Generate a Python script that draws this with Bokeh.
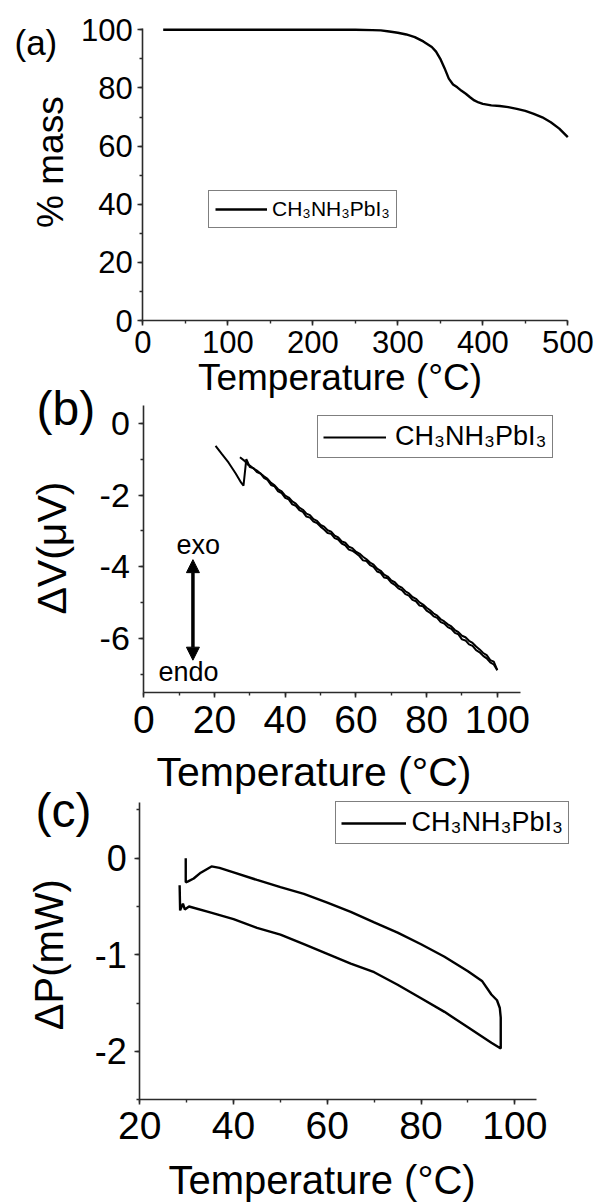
import math
from bokeh.plotting import figure
from bokeh.models import (SingleIntervalTicker, Range1d, Label, Legend, LegendItem,
                          Arrow, NormalHead, LinearAxis, CustomJSTickFormatter)
from bokeh.embed import file_html
from bokeh.resources import INLINE

FONT = "Liberation Sans"
INK = "#2b2b2b"
W, H = 600, 1203

# ---------------- (a) TGA ----------------
temp_a = [24, 50, 100, 150, 200, 250, 270, 280, 290, 300, 310, 320, 330, 340, 345,
          350, 355, 360, 365, 370, 375, 380, 385, 390, 395, 400, 410, 420, 430, 440,
          450, 460, 470, 480, 490, 500]
mass_a = [100.0, 100.0, 100.0, 100.0, 100.0, 100.0, 99.9, 99.8, 99.4, 99.0, 98.4, 97.5,
          96.0, 94.1, 92.5, 90.0, 86.8, 83.2, 81.2, 80.2, 79.0, 78.0, 76.8, 75.7, 75.0,
          74.5, 74.0, 73.8, 73.4, 72.8, 72.1, 71.1, 69.9, 68.2, 66.0, 63.1]

# ---------------- (b) DTA ----------------
heat_b_t = [20.3, 22, 24, 26, 27.5, 28.2, 29.0, 30, 31, 32, 33, 34, 35, 36, 37, 38, 39,
            40, 41, 42, 43, 44, 45, 46, 47, 48, 49, 50, 51, 52, 53, 54, 55, 56, 57, 58,
            59, 60, 61, 62, 63, 64, 65, 66, 67, 68, 69, 70, 71, 72, 73, 74, 75, 76, 77,
            78, 79, 80, 81, 82, 83, 84, 85, 86, 87, 88, 89, 90, 91, 92, 93, 94, 95, 96,
            97, 98, 99, 100]
heat_b_v = [-0.63, -0.85, -1.10, -1.40, -1.65, -1.74, -1.00, -1.22, -1.25, -1.36, -1.40,
            -1.52, -1.58, -1.72, -1.76, -1.90, -1.95, -2.08, -2.12, -2.26, -2.30, -2.42,
            -2.47, -2.60, -2.63, -2.74, -2.78, -2.88, -2.96, -3.06, -3.08, -3.20, -3.24,
            -3.35, -3.40, -3.52, -3.55, -3.62, -3.70, -3.82, -3.84, -3.95, -4.00, -4.13,
            -4.17, -4.30, -4.32, -4.44, -4.50, -4.60, -4.65, -4.76, -4.80, -4.92, -4.96,
            -5.08, -5.10, -5.22, -5.28, -5.38, -5.42, -5.54, -5.58, -5.68, -5.73, -5.84,
            -5.88, -6.02, -6.05, -6.16, -6.20, -6.32, -6.38, -6.48, -6.55, -6.66, -6.72,
            -6.88]
cool_b_t = [100, 99, 98, 97, 96, 95, 94, 93, 92, 91, 90, 89, 88, 87, 86, 85, 84, 83, 82,
            81, 80, 79, 78, 77, 76, 75, 74, 73, 72, 71, 70, 69, 68, 67, 66, 65, 64, 63,
            62, 61, 60, 59, 58, 57, 56, 55, 54, 53, 52, 51, 50, 49, 48, 47, 46, 45, 44,
            43, 42, 41, 40, 39, 38, 37, 36, 35, 34, 33, 32, 31, 30, 29.5, 28.5, 27.2]
cool_b_v = [-6.88, -6.64, -6.60, -6.46, -6.40, -6.30, -6.22, -6.12, -6.06, -5.96, -5.92,
            -5.82, -5.76, -5.66, -5.60, -5.52, -5.46, -5.36, -5.30, -5.21, -5.14, -5.05,
            -4.99, -4.89, -4.84, -4.74, -4.68, -4.58, -4.53, -4.43, -4.38, -4.27, -4.22,
            -4.11, -4.05, -3.94, -3.88, -3.79, -3.72, -3.63, -3.58, -3.48, -3.44, -3.33,
            -3.29, -3.18, -3.13, -3.02, -2.98, -2.88, -2.83, -2.72, -2.67, -2.56, -2.52,
            -2.41, -2.35, -2.24, -2.18, -2.07, -2.02, -1.90, -1.84, -1.73, -1.66, -1.55,
            -1.48, -1.40, -1.32, -1.26, -1.18, -1.16, -1.05, -0.95]

# exo / endo arrow (data units of panel b)
arrow_t = 13.9
arrow_top = -3.8
arrow_bottom = -6.6

# ---------------- (c) DSC ----------------
heat_c_t = [28.5, 28.6, 29.2, 29.6, 30.5, 35, 40, 45, 50, 55, 60, 65, 70, 75, 80, 85,
            90, 95, 97.0]
heat_c_p = [-0.28, -0.54, -0.47, -0.53, -0.50, -0.56, -0.63, -0.72, -0.79, -0.89, -0.99,
            -1.09, -1.18, -1.31, -1.45, -1.59, -1.75, -1.91, -1.97]
cool_c_t = [97.0, 97.0, 96.8, 96.2, 95, 93, 90, 85, 80, 75, 70, 65, 60, 55, 50, 45, 40,
            37, 35.3, 33, 31.5, 30.3, 29.8, 29.8]
cool_c_p = [-1.97, -1.65, -1.55, -1.47, -1.41, -1.27, -1.17, -1.02, -0.89, -0.77, -0.665,
            -0.555, -0.46, -0.37, -0.30, -0.225, -0.146, -0.10, -0.085, -0.15, -0.21,
            -0.24, -0.25, 0.0]

LEGEND_LABEL = "CH\u2083NH\u2083PbI\u2083"
X_LABEL = "Temperature (\u00b0C)"
Y_LABELS = ["% mass", "\u0394V(\u03bcV)", "\u0394P(mW)"]
PANEL_TAGS = ["(a)", "(b)", "(c)"]

# axis extents (value ranges drawn by each panel's axes)
x_bounds = {"a": (0, 500), "b": (0, 106.5), "c": (20, 104.6)}
y_bounds = {"a": (0, 100.35), "b": (-7.5, 0.5), "c": (-2.5, 0.58)}


def x_range_for(px0, v0, px1, v1):
    s = (v1 - v0) / (px1 - px0)
    return Range1d(start=v0 - px0 * s, end=v0 + (W - px0) * s)


def y_range_for(py0, v0, py1, v1):
    s = (v1 - v0) / (py1 - py0)
    return Range1d(start=v0 + (H - py0) * s, end=v0 - py0 * s)


# One canvas; the frame covers all of it.  Default ranges are page pixels (y down).
p = figure(width=W, height=H, output_backend="svg", toolbar_location=None,
           x_range=Range1d(0, W), y_range=Range1d(H, 0),
           x_axis_type=None, y_axis_type=None, min_border=0)
p.title.visible = False
p.outline_line_color = None
p.border_fill_color = "white"
p.background_fill_color = "white"

# pixel placement of each panel (where two axis values fall on the page)
p.extra_x_ranges = {"a": x_range_for(142.3, 0, 567.3, 500),
                    "b": x_range_for(143.3, 0, 496.8, 100),
                    "c": x_range_for(139.3, 20, 514.3, 100)}
p.extra_y_ranges = {"a": y_range_for(320.0, 0, 29.3, 100),
                    "b": y_range_for(422.7, 0, 692.0, -7.5),
                    "c": y_range_for(857.7, 0, 1099.3, -2.5)}

FMT = CustomJSTickFormatter(code="return String(tick);")


def style_axis(ax, fs, standoff):
    ax.axis_line_color = INK
    ax.axis_line_width = 1.6
    ax.major_tick_line_color = INK
    ax.major_tick_line_width = 1.6
    ax.minor_tick_line_color = INK
    ax.minor_tick_line_width = 1.4
    ax.major_tick_in = 0
    ax.major_tick_out = 5
    ax.minor_tick_in = 0
    ax.minor_tick_out = 3
    ax.major_label_text_font = FONT
    ax.major_label_text_font_size = fs
    ax.major_label_text_color = "black"
    ax.major_label_standoff = standoff
    ax.formatter = FMT


def add_axes(name, xint, yint, xfs, yfs, xso, yso):
    xb, yb = x_bounds[name], y_bounds[name]
    xa = LinearAxis(x_range_name=name, y_range_name=name, fixed_location=yb[0],
                    bounds=xb, ticker=SingleIntervalTicker(interval=xint, num_minor_ticks=2))
    style_axis(xa, xfs, xso)
    p.add_layout(xa, "below")
    ya = LinearAxis(x_range_name=name, y_range_name=name, fixed_location=xb[0],
                    bounds=yb, ticker=SingleIntervalTicker(interval=yint, num_minor_ticks=2))
    style_axis(ya, yfs, yso)
    p.add_layout(ya, "left")


add_axes("a", 100, 20, "31px", "31px", 5, 5)
add_axes("b", 20, 2, "39px", "34px", 8, 9)
add_axes("c", 20, 1, "39px", "36px", 7, 8)

ra = p.line(temp_a, mass_a, line_color="black", line_width=2.4,
            x_range_name="a", y_range_name="a")
rb = p.line(heat_b_t, heat_b_v, line_color="black", line_width=2,
            x_range_name="b", y_range_name="b")
p.line(cool_b_t, cool_b_v, line_color="black", line_width=2,
       x_range_name="b", y_range_name="b")
rc = p.line(heat_c_t + cool_c_t, heat_c_p + cool_c_p, line_color="black", line_width=2.4,
            x_range_name="c", y_range_name="c")

# exo / endo marker in panel (b)
p.add_layout(Arrow(x_start=arrow_t, y_start=arrow_top, x_end=arrow_t, y_end=arrow_bottom,
                   x_range_name="b", y_range_name="b",
                   line_width=3.5, line_color="black",
                   start=NormalHead(size=13, fill_color="black", line_color="black"),
                   end=NormalHead(size=13, fill_color="black", line_color="black")))
p.add_layout(Label(x=9.25, y=-3.39, text="exo", x_range_name="b", y_range_name="b",
                   text_font=FONT, text_font_size="27px", text_color="black",
                   text_baseline="alphabetic"))
p.add_layout(Label(x=4.16, y=-6.93, text="endo", x_range_name="b", y_range_name="b",
                   text_font=FONT, text_font_size="27px", text_color="black",
                   text_baseline="alphabetic"))


def txt(x, y, text, size, align="left", angle=0.0):
    p.add_layout(Label(x=x, y=y, text=text, text_font=FONT, text_font_size=size,
                       text_color="black", text_baseline="alphabetic",
                       text_align=align, angle=angle))


# panel tags (page pixels)
txt(14, 41.7, PANEL_TAGS[0], "35px")
txt(36, 407.8, PANEL_TAGS[1], "48px")
txt(35, 809.5, PANEL_TAGS[2], "48px")
# x-axis titles
txt(339.5, 377.3, X_LABEL, "37px", align="center")
txt(313.5, 771.0, X_LABEL, "41px", align="center")
txt(321.5, 1179.7, X_LABEL, "40px", align="center")
# y-axis titles
txt(50.0, 161.6, Y_LABELS[0], "37px", align="center", angle=math.pi / 2)
txt(51.3, 547.6, Y_LABELS[1], "41px", align="center", angle=math.pi / 2)
txt(48.3, 954.2, Y_LABELS[2], "40px", align="center", angle=math.pi / 2)

# legends: (bottom-left corner in page pixels from the bottom), font, padding, glyph, gap
legend_specs = [(ra, (208, H - 227.7), "21px", 6, 52, 5),
                (rb, (317, H - 458.3), "27px", 5, 63, 9),
                (rc, (334.5, H - 844.0), "27px", 5, 65, 6)]
for rend, loc, fs, pad, gw, so in legend_specs:
    leg = Legend(items=[LegendItem(label=LEGEND_LABEL, renderers=[rend])],
                 location=loc, orientation="vertical",
                 border_line_color="black", border_line_width=1.5,
                 background_fill_color="white", background_fill_alpha=1,
                 padding=pad, margin=0, spacing=0,
                 glyph_width=gw, glyph_height=20, label_standoff=so,
                 label_text_font=FONT, label_text_font_size=fs,
                 label_text_color="black")
    p.add_layout(leg)

open("out.html", "w").write(file_html(p, INLINE))
